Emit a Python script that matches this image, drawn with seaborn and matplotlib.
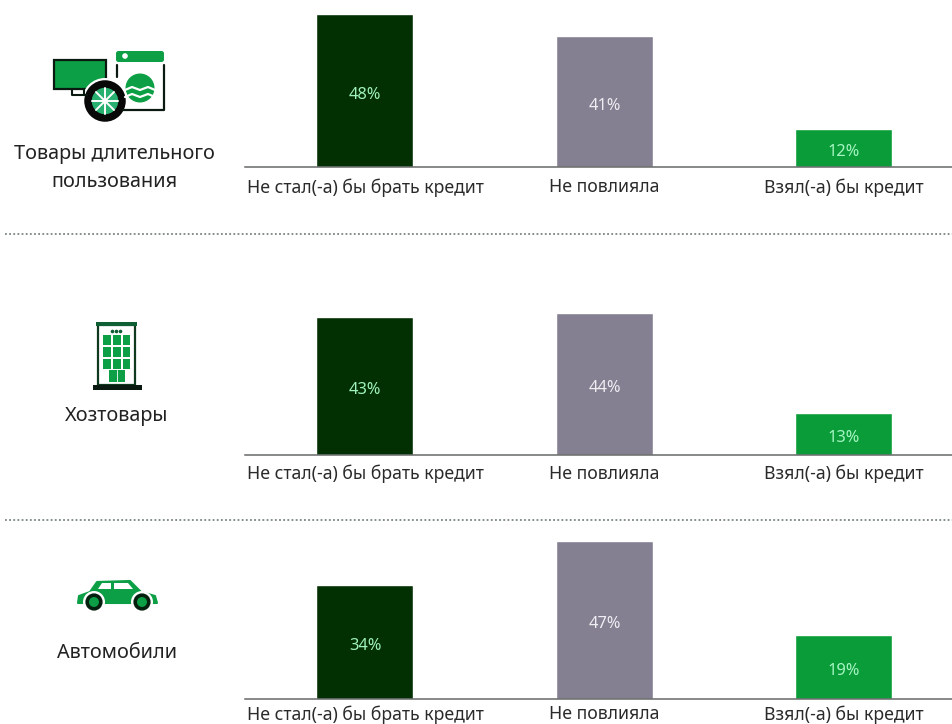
import matplotlib
matplotlib.use("Agg")
import matplotlib.pyplot as plt
import matplotlib.patches as mp
import pandas as pd
import seaborn as sns

W, H = 953, 724

categories = ["Не стал(-а) бы брать кредит", "Не повлияла", "Взял(-а) бы кредит"]
durable = [48, 41, 12]
household = [43, 44, 13]
cars = [34, 47, 19]
group_names = ["Товары длительного\nпользования", "Хозтовары", "Автомобили"]
colors = ["#033003", "#847f91", "#0a9c38"]
label_colors = ["#9ff2bd", "#eeeef2", "#a5f5c2"]

GREEN = "#0c9f45"
DARK = "#0a1a10"

sns.set_theme(style="white")
plt.rcParams["font.family"] = ["Noto Sans", "DejaVu Sans"]

fig = plt.figure(figsize=(W / 100, H / 100), dpi=100)

# overlay in pixel coordinates for dividers, icons and group names
bg = fig.add_axes([0, 0, 1, 1])
bg.set_xlim(0, W)
bg.set_ylim(H, 0)
bg.axis("off")


def panel(values, baseline, px_per_unit, pad):
    # axes spans x 245..952, 170 px tall above the baseline
    ax = fig.add_axes([245 / W, 1 - baseline / H, 707 / W, 170 / H])
    df = pd.DataFrame({"cat": categories, "val": values})
    sns.barplot(data=df, x="cat", y="val", hue="cat", palette=colors,
                legend=False, width=0.405, saturation=1, ax=ax)
    ax.set_xlim(-0.501, 2.451)
    ax.set_ylim(0, 170 / px_per_unit)
    ax.set_xlabel("")
    ax.set_ylabel("")
    ax.set_yticks([])
    ax.patch.set_alpha(0)
    sns.despine(ax=ax, left=True)
    ax.spines["bottom"].set_color("#666a68")
    ax.spines["bottom"].set_linewidth(1.1)
    ax.tick_params(axis="x", length=0, pad=pad, labelsize=12.7, labelcolor="#2a2a2a")
    for label in ax.get_xticklabels():
        label.set_x(label.get_position()[0])
    for cont, c in zip(ax.containers, label_colors):
        ax.bar_label(cont, labels=[f"{v:.0f}%" for v in cont.datavalues],
                     label_type="center", color=c, fontsize=11.8,
                     padding=-3)
    return ax


panel(durable, 167, 3.19, 8)
panel(household, 455, 3.22, 7)
panel(cars, 699, 3.36, 4.5)

for y in (234, 520):
    bg.plot([5, 952], [y, y], color="#7a8580", lw=1.3, ls=(0, (1, 1.3)))

for name, x, y in zip(group_names, (114, 117, 117), (168, 416, 653)):
    bg.text(x, y, name, ha="center", va="center", fontsize=14.3,
            color="#222222", linespacing=1.5)

# --- icons ---
# monitor
bg.add_patch(mp.Rectangle((54, 60), 52, 29, fc=GREEN, ec=DARK, lw=1.6))
bg.plot([72, 72, 87], [89, 95, 95], color=DARK, lw=1.5)
bg.plot([84, 84], [89, 95], color=DARK, lw=1.5)
# washing machine
bg.add_patch(mp.FancyBboxPatch((116, 51), 48, 11, boxstyle="round,pad=0,rounding_size=2.5",
                               fc=GREEN, ec="none"))
bg.add_patch(mp.Circle((125, 56), 2.8, fc="white", ec="none"))
bg.plot([117, 117], [65, 77], color=DARK, lw=1.6)
bg.plot([164, 164, 123], [65, 110, 110], color=DARK, lw=1.6)
bg.add_patch(mp.Circle((140, 88), 14.5, fc=GREEN, ec="none"))
for yy in (90, 97):
    bg.plot([125, 132, 140, 148, 155], [yy, yy - 3, yy, yy - 3, yy], color="white", lw=1.6)
# tyre
bg.add_patch(mp.Circle((105, 101), 23, fc="white", ec="none"))
bg.add_patch(mp.Circle((105, 101), 17, fc="#28b070", ec="#080808", lw=5.4))
for a, b in ((92, 101), (105, 88), (96, 92), (96, 110)):
    bg.plot([a, 210 - a], [b, 202 - b], color="white", lw=1.4)
bg.add_patch(mp.Circle((105, 101), 1.6, fc=DARK, ec="none"))

# building
bg.add_patch(mp.Rectangle((98, 325), 37, 60, fc="white", ec="#0f3a20", lw=1.6))
bg.add_patch(mp.Rectangle((96, 322), 41, 4, fc="#0f5f35", ec="none"))
bg.add_patch(mp.Rectangle((93, 385), 49, 5, fc=DARK, ec="none"))
for r in range(3):
    for c in range(3):
        bg.add_patch(mp.Rectangle((103.5 + c * 9.7, 335 + r * 12), 7.5, 9.5, fc=GREEN, ec="none"))
bg.add_patch(mp.Rectangle((109, 370), 16, 12, fc=GREEN, ec="none"))
bg.plot([117, 117], [370, 382], color="white", lw=0.6)
bg.plot([112, 116, 120], [331, 331, 331], ls="none", marker="o", ms=1.6, color="#0f5f35")

# car
bg.add_patch(mp.Polygon([(78, 603), (79, 596), (90, 592), (97, 582), (130, 581), (141, 592),
                         (155, 596), (157, 603)], closed=True, fc=GREEN, ec=GREEN, lw=1.5,
                        joinstyle="round"))
bg.add_patch(mp.Polygon([(98, 589), (102, 583), (111, 583), (111, 589)], fc="white", ec="none"))
bg.add_patch(mp.Polygon([(114, 583), (128, 583), (133, 589), (114, 589)], fc="white", ec="none"))
for cx in (94, 142):
    bg.add_patch(mp.Circle((cx, 602), 11, fc="white", ec="none"))
    bg.add_patch(mp.Circle((cx, 602), 6.8, fc=GREEN, ec="#062010", lw=2.6))

fig.savefig("out.png", dpi=100)
